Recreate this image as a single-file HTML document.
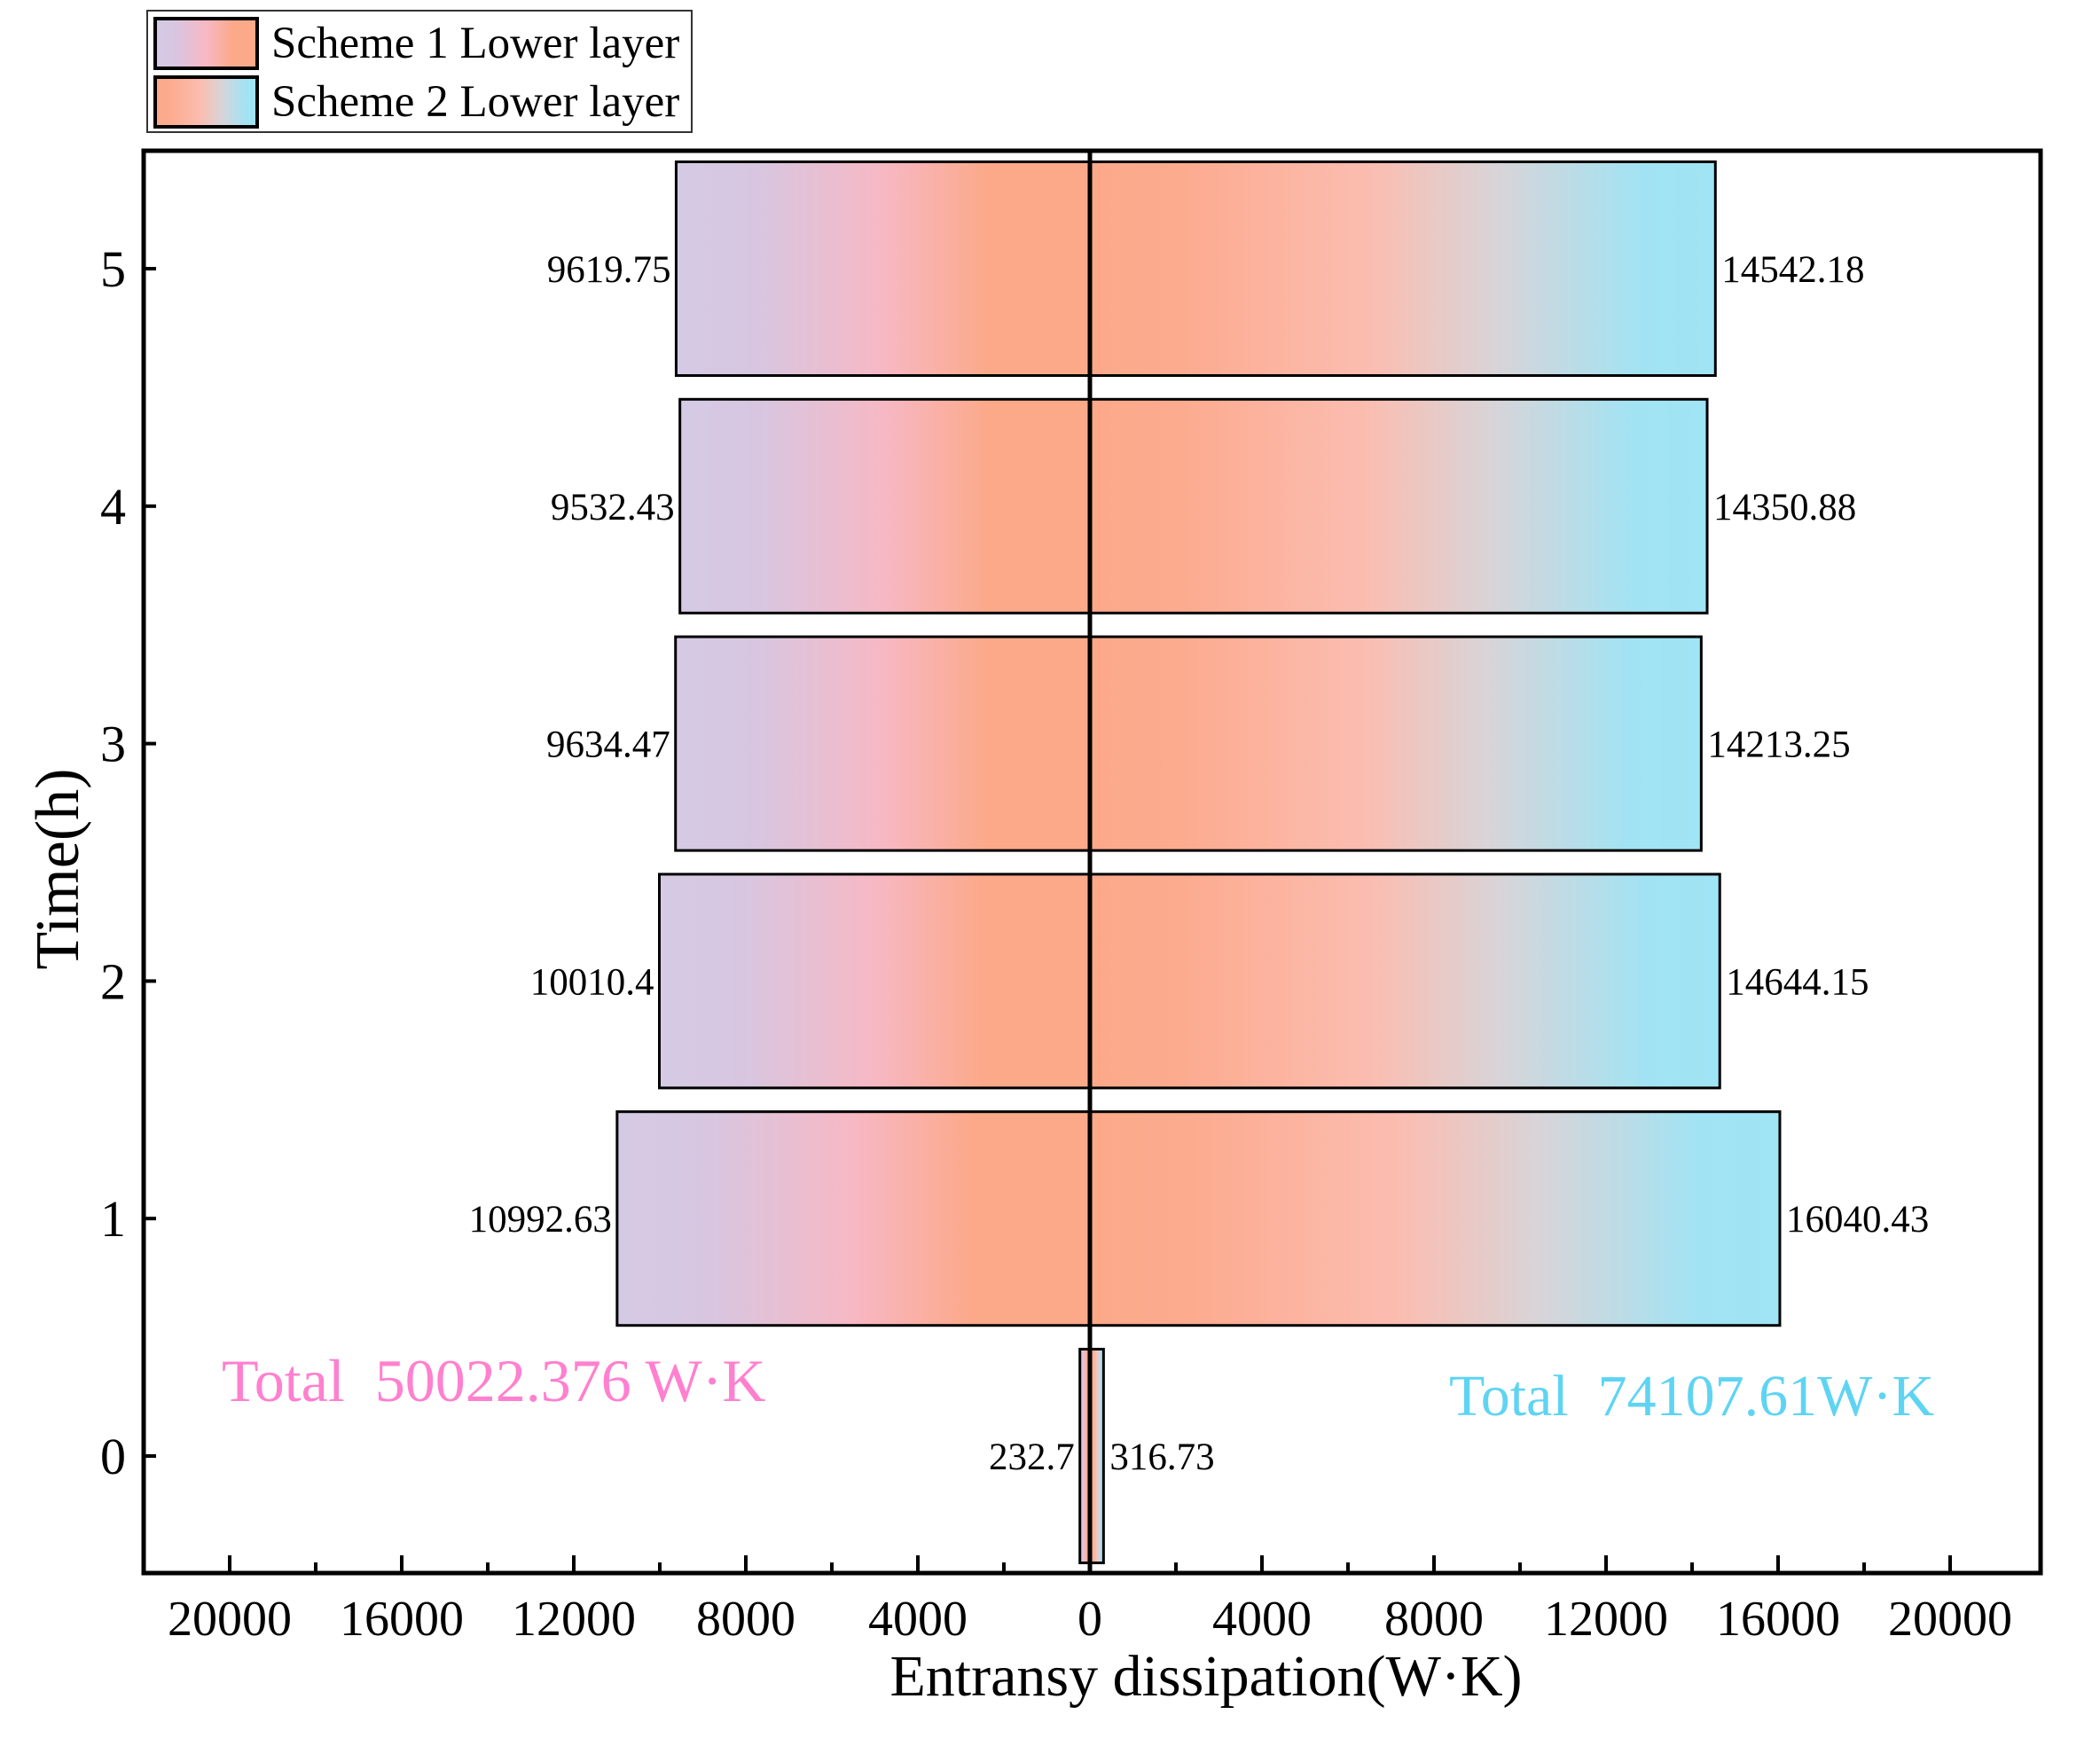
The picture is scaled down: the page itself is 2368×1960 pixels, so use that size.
<!DOCTYPE html>
<html><head><meta charset="utf-8"><style>
html,body{margin:0;padding:0;background:#fff;}
svg{display:block;font-family:"Liberation Serif",serif;}
</style></head><body>
<svg id="chart" width="2368" height="1960" viewBox="0 0 2368 1960">
<defs>
<linearGradient id="g1" x1="0" y1="0" x2="1" y2="0">
<stop offset="0" stop-color="#d4cae5"/><stop offset="0.2" stop-color="#d8c6e0"/><stop offset="0.5" stop-color="#f7b8c4"/><stop offset="0.75" stop-color="#fca98a"/><stop offset="1" stop-color="#fca98a"/>
</linearGradient>
<linearGradient id="g2" x1="0" y1="0" x2="1" y2="0">
<stop offset="0" stop-color="#fca98a"/><stop offset="0.15" stop-color="#fcab8f"/><stop offset="0.45" stop-color="#fbbdb1"/><stop offset="0.65" stop-color="#d8d4d8"/><stop offset="0.88" stop-color="#a2e3f3"/><stop offset="1" stop-color="#9fe5f5"/>
</linearGradient>
</defs>
<g id="plot"></g>
</svg>
<script>
const times = [0, 1, 2, 3, 4, 5];
const scheme1 = [232.7, 10992.63, 10010.4, 9634.47, 9532.43, 9619.75];
const scheme2 = [316.73, 16040.43, 14644.15, 14213.25, 14350.88, 14542.18];
const scheme1Labels = ["232.7", "10992.63", "10010.4", "9634.47", "9532.43", "9619.75"];
const scheme2Labels = ["316.73", "16040.43", "14644.15", "14213.25", "14350.88", "14542.18"];
const xTicks = [-20000, -16000, -12000, -8000, -4000, 0, 4000, 8000, 12000, 16000, 20000];
const xTickLabels = ["20000","16000","12000","8000","4000","0","4000","8000","12000","16000","20000"];
const yTicks = [0, 1, 2, 3, 4, 5];

const L=162, R=2301, T=170, B=1774;
const X0=1229, XS=970/20000;
const x = v => X0 + v*XS;
const Y5=303, Y0=1642;
const y = v => Y0 + v*(Y5-Y0)/5;
const NS="http://www.w3.org/2000/svg";
const g=document.getElementById('plot');
function mk(tag, attrs, parent){const e=document.createElementNS(NS,tag);for(const k in attrs)e.setAttribute(k,attrs[k]);(parent||g).appendChild(e);return e;}
const bh = 0.9*(Y0-Y5)/5;

times.forEach((t,i)=>{
  const b1=mk('rect',{x:x(-scheme1[i]),y:y(t)-bh/2,width:x(0)-x(-scheme1[i]),height:bh,fill:'url(#g1)',stroke:'#000','stroke-width':3});
  
  
  const b2=mk('rect',{x:x(0),y:y(t)-bh/2,width:x(scheme2[i])-x(0),height:bh,fill:'url(#g2)',stroke:'#000','stroke-width':3});
  
  
  const l1=mk('text',{x:x(-scheme1[i])-6,y:y(t)+15,'font-size':43,'text-anchor':'end',fill:'#000'});
  l1.textContent=scheme1Labels[i];
  
  
  const l2=mk('text',{x:x(scheme2[i])+7,y:y(t)+15,'font-size':43,'text-anchor':'start',fill:'#000'});
  l2.textContent=scheme2Labels[i];
  
  
});
const zl=mk('line',{x1:x(0),x2:x(0),y1:T,y2:B,stroke:'#000','stroke-width':5});


const fr=mk('rect',{x:L,y:T,width:R-L,height:B-T,fill:'none',stroke:'#000','stroke-width':5});


xTicks.forEach((v,i)=>{
  const tk=mk('line',{x1:x(v),x2:x(v),y1:B,y2:B-20,stroke:'#000','stroke-width':4});
  
  
  if(i<xTicks.length-1){
    const m=(v+xTicks[i+1])/2;
    const mt=mk('line',{x1:x(m),x2:x(m),y1:B,y2:B-12,stroke:'#000','stroke-width':4});
    
    
  }
  const tl=mk('text',{x:x(v),y:B+70,'font-size':56,'text-anchor':'middle',fill:'#000'});
  tl.textContent=xTickLabels[i];
  
  
});
yTicks.forEach(v=>{
  const tk=mk('line',{x1:L,x2:L+14,y1:y(v),y2:y(v),stroke:'#000','stroke-width':4});
  
  
  const tl=mk('text',{x:L-20,y:y(v)+20,'font-size':58,'text-anchor':'end',fill:'#000'});
  tl.textContent=String(v);
  
  
});
</script>
<svg style="position:absolute;left:0;top:0" width="2368" height="1960">
<g font-family="Liberation Serif, serif">
<text x="1360" y="1912" font-size="66" text-anchor="middle">Entransy dissipation(W·K)</text>
<text transform="translate(88,980) rotate(-90)" font-size="70" text-anchor="middle">Time(h)</text>
<text x="250" y="1580" font-size="68" fill="#ff80cf" xml:space="preserve">Total  50022.376 W·K</text>
<text x="1634" y="1596" font-size="66" fill="#5fd4f2" xml:space="preserve">Total  74107.61W·K</text>
<g>
<rect x="166" y="12" width="614" height="137" fill="#fff" stroke="#333" stroke-width="2"/>
<rect x="175" y="21" width="115" height="56" fill="url(#g1)" stroke="#000" stroke-width="4"/>
<text x="306" y="65" font-size="51">Scheme 1 Lower layer</text>
<rect x="175" y="87" width="115" height="56" fill="url(#g2)" stroke="#000" stroke-width="4"/>
<text x="306" y="131" font-size="51">Scheme 2 Lower layer</text>
</g>
</g>
</svg>
</body></html>
